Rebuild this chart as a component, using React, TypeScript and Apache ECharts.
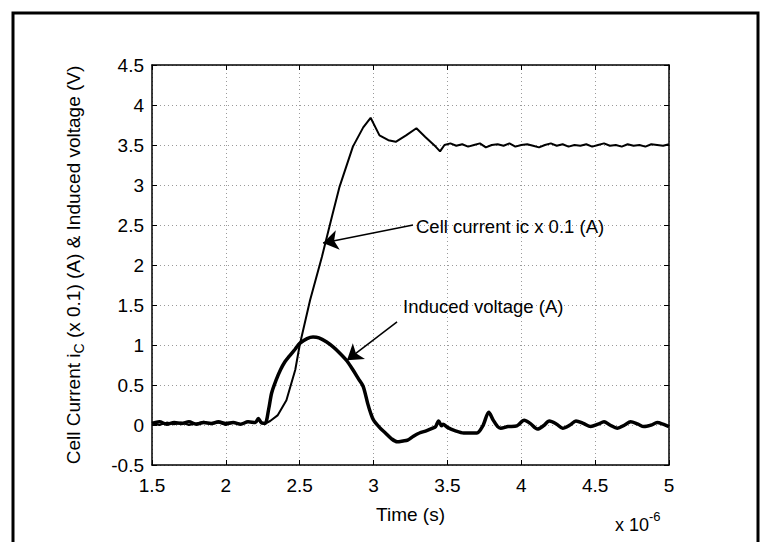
import React, { useEffect, useRef } from "react";
import * as echarts from "echarts";

// Time axis in units of 1e-6 s
const xTicks = { min: 1.5, max: 5, interval: 0.5 };
const yTicks = { min: -0.5, max: 4.5, interval: 0.5 };

// Cell current ic x 0.1 (A) — thin trace
const currentTime = [
  1.5, 1.55, 1.6, 1.65, 1.7, 1.75, 1.8, 1.85, 1.9, 1.95, 2.0, 2.05, 2.1, 2.15, 2.2, 2.22, 2.24, 2.27,
  2.3, 2.35, 2.41, 2.47, 2.5, 2.57, 2.65, 2.72, 2.77, 2.86, 2.93, 2.98, 3.04, 3.1, 3.15, 3.22, 3.29,
  3.35, 3.42, 3.45, 3.48, 3.52, 3.56, 3.6, 3.64, 3.68, 3.72, 3.76, 3.8, 3.84, 3.88, 3.92, 3.96, 4.0,
  4.04, 4.08, 4.12, 4.16, 4.2, 4.24, 4.28, 4.32, 4.36, 4.4, 4.44, 4.48, 4.52, 4.56, 4.6, 4.64, 4.68,
  4.72, 4.76, 4.8, 4.84, 4.88, 4.92, 4.96, 5.0,
];
const currentValue = [
  0.02, 0.0, 0.03, 0.01, 0.03, 0.0, 0.02, 0.04, 0.01, 0.03, 0.0, 0.03, 0.01, 0.04, 0.03, 0.07, 0.02, 0.02,
  0.05, 0.12, 0.31, 0.69, 1.0, 1.56, 2.1, 2.62, 2.98, 3.48, 3.72, 3.84, 3.62, 3.56, 3.54, 3.62, 3.71,
  3.6, 3.48, 3.42, 3.5, 3.52, 3.49, 3.51, 3.48, 3.5, 3.52, 3.47, 3.5, 3.51, 3.49, 3.52, 3.48, 3.5,
  3.51, 3.49, 3.47, 3.5, 3.52, 3.49, 3.51, 3.48, 3.5, 3.49, 3.51, 3.48, 3.5, 3.52, 3.49, 3.5, 3.48,
  3.51, 3.49, 3.5, 3.48, 3.51, 3.5, 3.49, 3.51,
];

// Induced voltage — thick trace
const voltageTime = [
  1.5, 1.55, 1.6, 1.65, 1.7, 1.75, 1.8, 1.85, 1.9, 1.95, 2.0, 2.05, 2.1, 2.15, 2.2, 2.22, 2.24, 2.265,
  2.29, 2.31, 2.34, 2.37, 2.4, 2.43, 2.47, 2.5, 2.55, 2.59, 2.63, 2.68, 2.73, 2.77, 2.82, 2.86, 2.9,
  2.93, 2.96, 2.98, 3.0, 3.04, 3.08, 3.12, 3.16, 3.2, 3.23, 3.27, 3.31, 3.36, 3.4, 3.42, 3.44, 3.46,
  3.47, 3.5, 3.55, 3.61, 3.66, 3.7, 3.74, 3.78, 3.81, 3.84, 3.86, 3.91, 3.97, 4.02, 4.06, 4.11, 4.15,
  4.19, 4.24, 4.28, 4.33, 4.37, 4.42, 4.47, 4.52, 4.56, 4.6, 4.65, 4.7, 4.74, 4.79, 4.83, 4.88, 4.92,
  4.96, 5.0,
];
const voltageValue = [
  0.02, 0.04, 0.01, 0.03, 0.02, 0.04, 0.01, 0.03, 0.02, 0.04, 0.02, 0.03, 0.01, 0.04, 0.03, 0.08, 0.03, 0.02,
  0.2, 0.4, 0.56, 0.69, 0.79, 0.86, 0.95, 1.02, 1.08, 1.1, 1.09, 1.04, 0.97, 0.9, 0.8, 0.69, 0.57,
  0.48, 0.27, 0.15, 0.06, -0.03, -0.1, -0.17, -0.21, -0.2, -0.19, -0.14, -0.1, -0.07, -0.04, -0.02, 0.05, -0.01,
  0.01, -0.03, -0.07, -0.1, -0.1, -0.1, -0.01, 0.16, 0.06, -0.02, -0.04, -0.02, -0.01, 0.06, 0.02, -0.05, -0.01,
  0.05, 0.01, -0.04, 0.0, 0.05, 0.02, -0.02, 0.01, 0.04, 0.0, -0.04, 0.0, 0.04, 0.01, -0.02, 0.0, 0.03,
  0.01, -0.02,
];

// Annotation arrows: [tailTime, tailValue, tipTime, tipValue]
const currentArrow = [3.267, 2.5, 2.658, 2.275];
const voltageArrow = [3.159, 1.29, 2.82, 0.81];
const currentNote = "Cell current ic x 0.1 (A)";
const voltageNote = "Induced voltage (A)";

const FONT = '"Liberation Sans", Arial, Helvetica, sans-serif';

export default function App() {
  const ref = useRef<HTMLDivElement>(null);

  useEffect(() => {
    if (!ref.current) return;
    const chart = echarts.init(ref.current, null, { renderer: "svg" });

    const currentData = currentTime.map((t, i) => [t, currentValue[i]]);
    const voltageData = voltageTime.map((t, i) => [t, voltageValue[i]]);

    const axisLine = { show: true, onZero: false, lineStyle: { color: "#000", width: 1.5 } };
    const axisTick = { show: true, inside: true, length: 5, lineStyle: { color: "#000", width: 1 } };
    const splitLine = { show: true, lineStyle: { color: "#9a9a9a", type: [1, 3] as any, width: 1 } };

    const option: any = {
      animation: false,
      backgroundColor: "#fff",
      grid: { left: 152, right: 101, top: 65, bottom: 77, containLabel: false },
      xAxis: [
        {
          type: "value",
          position: "bottom",
          ...xTicks,
          axisLine,
          axisTick,
          splitLine,
          axisLabel: { color: "#000", fontSize: 19, fontFamily: FONT, margin: 11 },
          name: "Time (s)",
          nameLocation: "middle",
          nameGap: 40,
          nameTextStyle: { color: "#000", fontSize: 19, fontFamily: FONT },
        },
        {
          type: "value",
          position: "top",
          ...xTicks,
          axisLine,
          axisTick,
          splitLine: { show: false },
          axisLabel: { show: false },
        },
      ],
      yAxis: [
        {
          type: "value",
          position: "left",
          ...yTicks,
          axisLine,
          axisTick,
          splitLine,
          axisLabel: { color: "#000", fontSize: 19, fontFamily: FONT, margin: 8 },
          name: "Cell Current i{sub|C} (x 0.1) (A) & Induced voltage (V)",
          nameLocation: "middle",
          nameRotate: 90,
          nameGap: 66,
          nameTextStyle: {
            color: "#000",
            fontSize: 19,
            fontFamily: FONT,
            lineHeight: 25,
            rich: {
              sub: { fontSize: 14, fontFamily: FONT, color: "#000", verticalAlign: "bottom", lineHeight: 15 },
            },
          },
        },
        {
          type: "value",
          position: "right",
          ...yTicks,
          axisLine,
          axisTick,
          splitLine: { show: false },
          axisLabel: { show: false },
        },
      ],
      series: [
        {
          type: "line",
          data: currentData,
          showSymbol: false,
          symbol: "none",
          lineStyle: { color: "#000", width: 2 },
          z: 3,
        },
        {
          type: "line",
          data: voltageData,
          showSymbol: false,
          symbol: "none",
          smooth: 0.3,
          lineStyle: { color: "#000", width: 3.5 },
          z: 4,
          markLine: {
            silent: true,
            animation: false,
            symbol: ["none", "arrow"],
            symbolSize: 15,
            label: { show: false },
            lineStyle: { color: "#000", width: 1.5, type: "solid" },
            data: [
              [
                { coord: [currentArrow[0], currentArrow[1]] },
                { coord: [currentArrow[2], currentArrow[3]] },
              ],
              [
                { coord: [voltageArrow[0], voltageArrow[1]] },
                { coord: [voltageArrow[2], voltageArrow[3]] },
              ],
            ],
          },
        },
      ],
      graphic: [
        {
          type: "text",
          x: 416,
          y: 226,
          style: { text: currentNote, fontSize: 18.5, fontFamily: FONT, fill: "#000", verticalAlign: "middle" },
          z: 10,
        },
        {
          type: "text",
          x: 403,
          y: 306,
          style: { text: voltageNote, fontSize: 18.5, fontFamily: FONT, fill: "#000", verticalAlign: "middle" },
          z: 10,
        },
        {
          type: "text",
          x: 615,
          y: 522,
          style: {
            text: "{a|x 10}{b|-6}",
            fill: "#000",
            verticalAlign: "middle",
            rich: {
              a: { fontSize: 18, fontFamily: FONT, fill: "#000", verticalAlign: "bottom", lineHeight: 24 },
              b: { fontSize: 13, fontFamily: FONT, fill: "#000", verticalAlign: "top", lineHeight: 13 },
            },
          },
          z: 10,
        },
        {
          type: "polyline",
          shape: { points: [[13, 542], [13, 13], [758, 13], [758, 542]] },
          style: { stroke: "#000", lineWidth: 3, fill: null },
          z: 10,
        },
      ],
    };

    chart.setOption(option);
    return () => chart.dispose();
  }, []);

  return (
    <div
      ref={ref}
      style={{ position: "fixed", left: 0, top: 0, width: 770, height: 542, background: "#fff" }}
    />
  );
}
